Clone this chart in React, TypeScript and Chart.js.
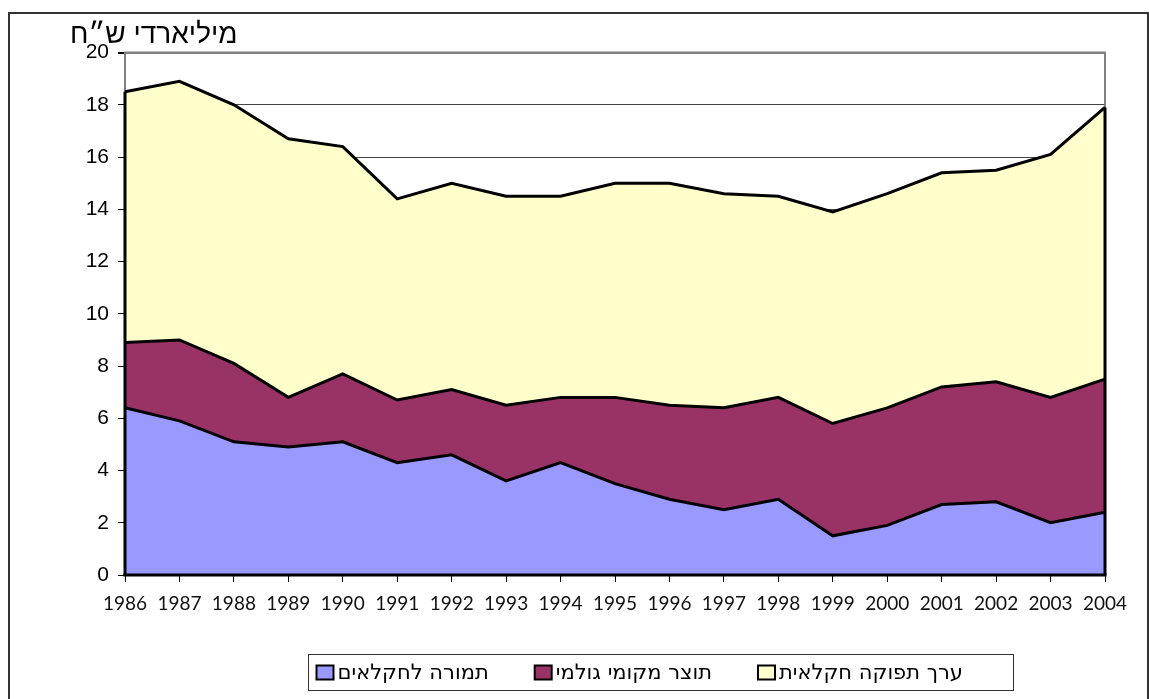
import React, { useEffect, useRef } from "react";
import { Chart, registerables } from "chart.js";

Chart.register(...registerables);

const YEARS = ["1986","1987","1988","1989","1990","1991","1992","1993","1994","1995","1996","1997","1998","1999","2000","2001","2002","2003","2004"];
// cumulative levels (top edge of each band)
const FARMERS_RETURN = [6.4, 5.9, 5.1, 4.9, 5.1, 4.3, 4.6, 3.6, 4.3, 3.5, 2.9, 2.5, 2.9, 1.5, 1.9, 2.7, 2.8, 2.0, 2.4];
const GDP_TOP = [8.9, 9.0, 8.1, 6.8, 7.7, 6.7, 7.1, 6.5, 6.8, 6.8, 6.5, 6.4, 6.8, 5.8, 6.4, 7.2, 7.4, 6.8, 7.5];
const OUTPUT_TOP = [18.5, 18.9, 18.0, 16.7, 16.4, 14.4, 15.0, 14.5, 14.5, 15.0, 15.0, 14.6, 14.5, 13.9, 14.6, 15.4, 15.5, 16.1, 17.9];
const SERIES_LABELS = ["תמורה לחקלאים", "תוצר מקומי גולמי", "ערך תפוקה חקלאית"];
const SERIES_COLORS = ["#9999FF", "#993366", "#FFFFCC"];
const Y_TITLE = "מיליארדי ש״ח";

const plotFrame = {
  id: "plotFrame",
  beforeDatasetsDraw(chart: any) {
    const { ctx, chartArea } = chart;
    ctx.save();
    ctx.strokeStyle = "#808080";
    ctx.lineWidth = 2;
    ctx.beginPath();
    ctx.moveTo(chartArea.left, chartArea.bottom);
    ctx.lineTo(chartArea.left, chartArea.top);
    ctx.lineTo(chartArea.right, chartArea.top);
    ctx.lineTo(chartArea.right, chartArea.bottom);
    ctx.stroke();
    ctx.restore();
  },
  afterDatasetsDraw(chart: any) {
    const { ctx } = chart;
    const xs = chart.scales.x;
    const ys = chart.scales.y;
    const last = YEARS.length - 1;
    ctx.save();
    ctx.strokeStyle = "#000";
    ctx.lineWidth = 3;
    [0, last].forEach((i) => {
      const x = xs.getPixelForValue(i);
      ctx.beginPath();
      ctx.moveTo(x, ys.getPixelForValue(0));
      ctx.lineTo(x, ys.getPixelForValue(OUTPUT_TOP[i]));
      ctx.stroke();
    });
    ctx.beginPath();
    ctx.moveTo(xs.getPixelForValue(0) - 1.5, ys.getPixelForValue(0));
    ctx.lineTo(xs.getPixelForValue(last) + 1.5, ys.getPixelForValue(0));
    ctx.stroke();
    ctx.restore();
  },
};

const boxLegend = {
  id: "boxLegend",
  afterDraw(chart: any) {
    const { ctx, chartArea } = chart;
    ctx.save();
    ctx.font = '21px "DejaVu Sans"';
    ctx.textBaseline = "middle";
    ctx.textAlign = "left";
    const sw = 17, sh = 14, gapText = 4, gapItem = 46, padL = 8;
    const widths = SERIES_LABELS.map((t) => ctx.measureText(t).width);
    const left = Math.round(chartArea.left + 183) + 0.5;
    const right = Math.round(chartArea.left + 888) + 0.5;
    const top = Math.round(chartArea.bottom + 79) + 0.5;
    const h = 36;
    ctx.strokeStyle = "#333";
    ctx.lineWidth = 1;
    ctx.strokeRect(left, top, right - left, h);
    let x = left + padL;
    const cy = top + h / 2;
    SERIES_LABELS.forEach((t, i) => {
      ctx.fillStyle = SERIES_COLORS[i];
      ctx.fillRect(x, cy - sh / 2, sw, sh);
      ctx.strokeStyle = "#000";
      ctx.lineWidth = 2;
      ctx.strokeRect(x, cy - sh / 2, sw, sh);
      x += sw + gapText;
      ctx.fillStyle = "#000";
      ctx.fillText(t, x, cy + 1);
      x += widths[i] + gapItem;
    });
    ctx.restore();
  },
};

export default function App() {
  const ref = useRef<HTMLCanvasElement | null>(null);
  useEffect(() => {
    if (!ref.current) return;
    const chart = new Chart(ref.current, {
      type: "line",
      data: {
        labels: YEARS,
        datasets: [
          { label: SERIES_LABELS[0], data: FARMERS_RETURN, backgroundColor: SERIES_COLORS[0], borderColor: "#000", borderWidth: 3, fill: "origin", pointRadius: 0, tension: 0 },
          { label: SERIES_LABELS[1], data: GDP_TOP, backgroundColor: SERIES_COLORS[1], borderColor: "#000", borderWidth: 3, fill: "-1", pointRadius: 0, tension: 0 },
          { label: SERIES_LABELS[2], data: OUTPUT_TOP, backgroundColor: SERIES_COLORS[2], borderColor: "#000", borderWidth: 3, fill: "-1", pointRadius: 0, tension: 0 },
        ],
      },
      options: {
        animation: false,
        responsive: false,
        maintainAspectRatio: false,
        layout: { padding: { left: 60, right: 42, top: 4, bottom: 95 } },
        plugins: {
          legend: { display: false },
          tooltip: { enabled: false },
          title: {
            display: true,
            text: Y_TITLE,
            align: "start",
            color: "#000",
            font: { family: '"Liberation Sans", Arial, sans-serif', size: 28, weight: "normal" },
            padding: { top: 0, bottom: 1 },
          },
        },
        scales: {
          x: {
            type: "category",
            offset: false,
            grid: { drawOnChartArea: false, drawTicks: true, tickLength: 7, color: "#000", tickColor: "#000" },
            border: { display: false },
            ticks: {
              color: "#111",
              font: { family: "Lato, sans-serif", size: 19, weight: "normal" },
              padding: 10,
              maxRotation: 0,
              autoSkip: false,
            },
            afterFit(scale: any) { scale.height = 40; },
          },
          y: {
            min: 0,
            max: 20,
            grid: {
              color: (c: any) => (c.tick && c.tick.value === 20 ? "#808080" : "#444"),
              lineWidth: (c: any) => (c.tick && c.tick.value === 20 ? 2 : 1),
              tickLength: 7,
              tickColor: "#000",
            },
            border: { display: false },
            ticks: {
              stepSize: 2,
              color: "#000",
              font: { family: '"Liberation Sans", Arial, sans-serif', size: 21 },
              padding: 9,
            },
            afterFit(scale: any) { scale.width = 55; },
          },
        },
      },
      plugins: [plotFrame, boxLegend],
    });
    return () => chart.destroy();
  }, []);

  return (
    <div
      style={{
        position: "fixed",
        left: 8,
        top: 12,
        width: 1141,
        height: 700,
        border: "2px solid #333",
        boxSizing: "border-box",
        background: "#fff",
      }}
    >
      <canvas ref={ref} width={1137} height={696} style={{ position: "absolute", left: 0, top: 0, width: 1137, height: 696 }} />
    </div>
  );
}
